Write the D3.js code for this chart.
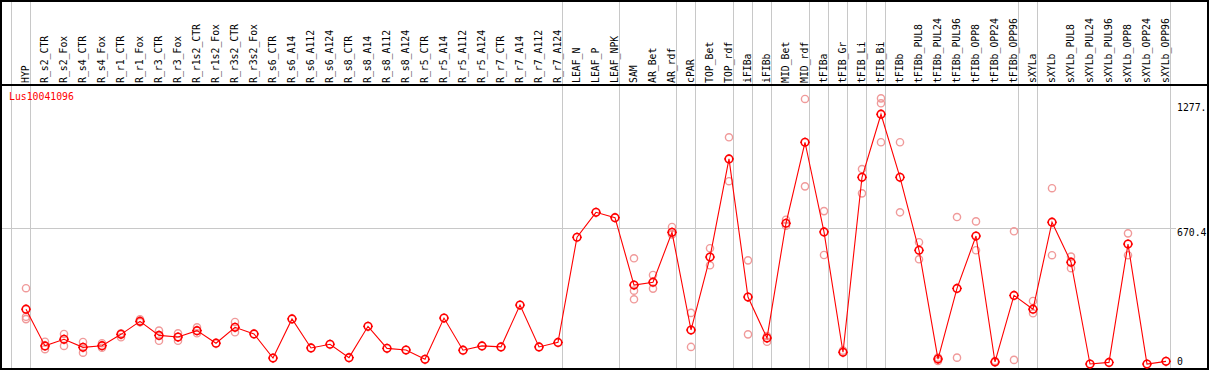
<!DOCTYPE html>
<html>
<head>
<meta charset="utf-8">
<script src="https://cdn.jsdelivr.net/npm/d3@7"></script>
<style>
  body { margin: 0; background: #fff; }
  text { font-family: "DejaVu Sans Mono", monospace; font-size: 9.8px; }
</style>
</head>
<body>
<div class="container"></div>
<script>
// column names (samples)
const labels = ["HYP", "R_s2_CTR", "R_s2_Fox", "R_s4_CTR", "R_s4_Fox", "R_r1_CTR", "R_r1_Fox",
  "R_r3_CTR", "R_r3_Fox", "R_r1s2_CTR", "R_r1s2_Fox", "R_r3s2_CTR", "R_r3s2_Fox",
  "R_s6_CTR", "R_s6_A14", "R_s6_A112", "R_s6_A124", "R_s8_CTR", "R_s8_A14", "R_s8_A112", "R_s8_A124",
  "R_r5_CTR", "R_r5_A14", "R_r5_A112", "R_r5_A124", "R_r7_CTR", "R_r7_A14", "R_r7_A112", "R_r7_A124",
  "LEAF_N", "LEAF_P", "LEAF_NPK", "SAM", "AR_Bet", "AR_rdf", "cPAR", "TOP_Bet", "TOP_rdf",
  "iFIBa", "iFIBb", "MID_Bet", "MID_rdf", "tFIBa", "tFIB_Gr", "tFIB_Li", "tFIB_Bi", "tFIBb",
  "tFIBb_PUL8", "tFIBb_PUL24", "tFIBb_PUL96", "tFIBb_OPP8", "tFIBb_OPP24", "tFIBb_OPP96",
  "sXYLa", "sXYLb", "sXYLb_PUL8", "sXYLb_PUL24", "sXYLb_PUL96", "sXYLb_OPP8", "sXYLb_OPP24", "sXYLb_OPP96"];

// mean expression per column
const means = [278, 100, 132, 93, 101, 156, 219, 151, 143, 174, 113, 190, 158,
  41, 231, 90, 108, 43, 195, 88, 80, 35, 235, 79, 100, 95, 298, 95, 117,
  627, 748, 722,
  395, 409, 651, 177, 531, 1007, 337, 138, 695, 1088, 653, 69, 918, 1224,
  918, 564, 36, 379, 633, 22, 345,
  278, 700, 506, 12, 20, 594, 12, 25];

// replicate values per column
const reps = [[380, 241, 230], [120, 84], [158, 100], [119, 67], [113, 91], [161, 142], [229, 215],
  [174, 125], [161, 125], [190, 161], [], [216, 166], [],
  [], [], [], [], [], [], [], [], [], [], [], [], [], [], [], [],
  [], [], [],
  [525, 368, 326], [444, 378], [677, 641], [260, 95], [574, 491], [1112, 899], [515, 156], [148, 120],
  [712, 683], [1298, 874], [754, 541], [77], [958, 840], [1301, 1277, 1088],
  [1088, 748], [603, 520], [43, 27], [725, 43], [704, 564], [27], [656, 32],
  [318, 258], [865, 540], [533, 477], [], [], [646, 540], [], []];

// columns after which a separator is drawn
const groupEnds = ["HYP", "R_r7_A124", "LEAF_NPK", "AR_rdf", "cPAR", "TOP_rdf", "iFIBa", "iFIBb",
  "MID_rdf", "tFIBa", "tFIB_Gr", "tFIB_Li", "tFIB_Bi", "tFIBb_OPP96", "sXYLa", "sXYLb_OPP96"];

const gene = "Lus10041096";
const yTicks = [0, 670.4, 1277];
const yTickText = ["0", "670.4", "1277."];

const width = 1209, height = 370;
const headerY = 85;

const svg = d3.select(".container").append("svg")
  .attr("width", width)
  .attr("height", height);

const x = d3.scalePoint().domain(labels).range([26, 1166]);
const y = d3.scaleLinear().domain([0, 1277]).range([366.5, 103.3]);
const step = x.step();

// gridlines
const grid = svg.append("g").attr("stroke", "#c8c8c8").attr("stroke-width", 1).attr("shape-rendering", "crispEdges");
grid.selectAll("line.v")
  .data([labels[0]].concat(groupEnds))
  .join("line")
  .attr("class", "v")
  .attr("x1", (d, i) => (i === 0 ? x(d) - step : x(d)) + 4.7)
  .attr("x2", (d, i) => (i === 0 ? x(d) - step : x(d)) + 4.7)
  .attr("y1", 0)
  .attr("y2", height);
grid.append("line")
  .attr("x1", 1).attr("x2", 1176)
  .attr("y1", y(670.4)).attr("y2", y(670.4));

// frame
const frame = svg.append("g").attr("stroke", "#000").attr("shape-rendering", "crispEdges");
frame.append("rect").attr("x", 1).attr("y", 0.5).attr("width", 1207).attr("height", 368.5)
  .attr("fill", "none").attr("stroke-width", 2);
frame.append("line").attr("x1", 0).attr("x2", width).attr("y1", headerY).attr("y2", headerY).attr("stroke-width", 2);

// column labels
svg.append("g").selectAll("text")
  .data(labels)
  .join("text")
  .attr("transform", d => `translate(${x(d) + 3},${headerY - 2}) rotate(-90)`)
  .attr("fill", "#000")
  .text(d => d);

// right axis labels
svg.append("g").selectAll("text")
  .data(yTicks)
  .join("text")
  .attr("x", 1177)
  .attr("y", (d, i) => Math.min(y(d) + 7.5, 365))
  .attr("fill", "#000")
  .text((d, i) => yTickText[i]);

// gene name
svg.append("text").attr("x", 9).attr("y", 100).attr("fill", "#ff0000").text(gene);

// replicate circles
const repPts = [];
reps.forEach((r, i) => r.forEach(v => repPts.push({ k: labels[i], v })));
svg.append("g").selectAll("circle")
  .data(repPts)
  .join("circle")
  .attr("cx", d => x(d.k))
  .attr("cy", d => y(d.v))
  .attr("r", 3.6)
  .attr("fill", "none")
  .attr("stroke", "#f09a9a")
  .attr("stroke-width", 1.4);

// mean line
const line = d3.line().x((d, i) => x(labels[i])).y(d => y(d));
svg.append("path")
  .datum(means)
  .attr("d", line)
  .attr("fill", "none")
  .attr("stroke", "#ff0000")
  .attr("stroke-width", 1.1);

// mean markers
const mk = svg.append("g").selectAll("g")
  .data(means)
  .join("g")
  .attr("transform", (d, i) => `translate(${x(labels[i])},${y(d)})`);
mk.append("circle")
  .attr("r", 3.8)
  .attr("fill", "none")
  .attr("stroke", "#ff0000")
  .attr("stroke-width", 1.6);
mk.append("path")
  .attr("d", "M0,-5V-4M0,4V5M-5,0H-4M4,0H5")
  .attr("stroke", "#ff0000")
  .attr("stroke-width", 1);
</script>
</body>
</html>
